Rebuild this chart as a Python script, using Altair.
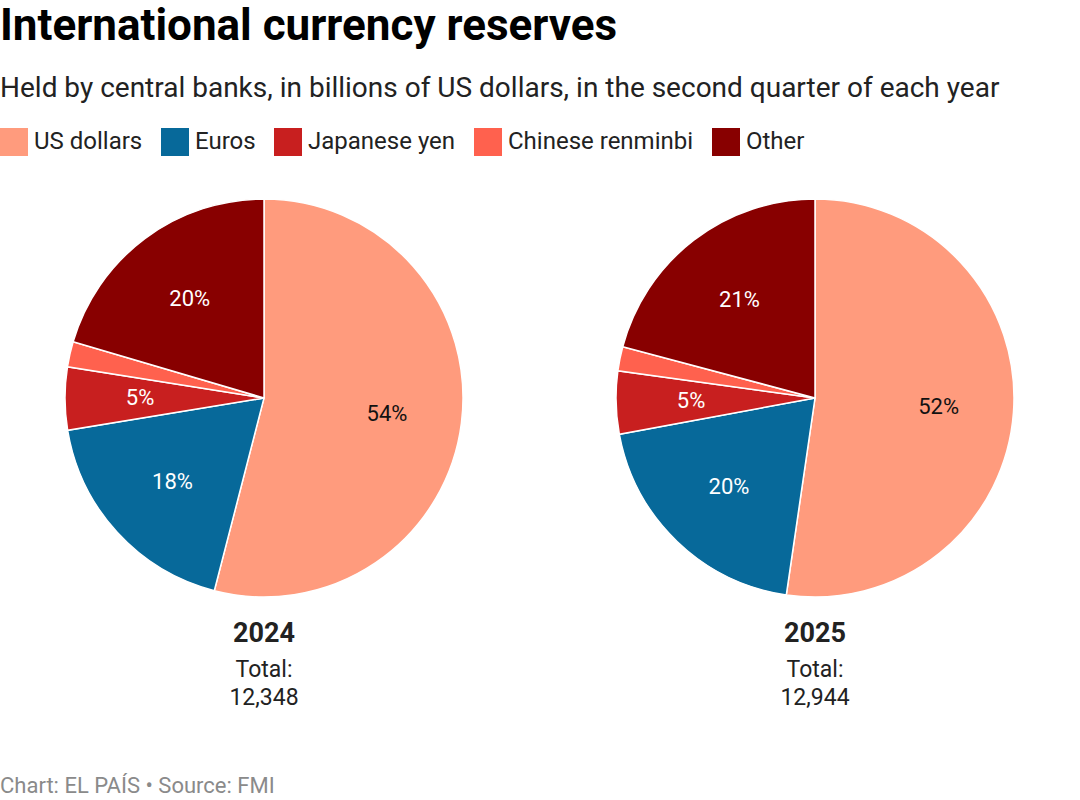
import math
import altair as alt
import pandas as pd

# Reserves held by central banks, billions of US dollars, Q2 of each year
currencies = ["US dollars", "Euros", "Japanese yen", "Chinese renminbi", "Other"]
palette = ["#ff9b7d", "#07699a", "#c81f1f", "#ff614e", "#880000"]
years = ["2024", "2025"]
reserves_2024 = [6670, 2270, 630, 254, 2524]
reserves_2025 = [6770, 2560, 660, 255, 2699]
totals = [12348, 12944]

FONT = "Roboto"

rows = []
for year, values in zip(years, [reserves_2024, reserves_2025]):
    for i, (cur, val) in enumerate(zip(currencies, values)):
        rows.append({"year": year, "currency": cur, "order": i, "value": val})
df = pd.DataFrame(rows)
totals_df = pd.DataFrame({"year": years, "total": totals})
footer_df = pd.DataFrame({"note": ["Chart: EL PAÍS • Source: FMI"]})

x_enc = alt.X("year:N", axis=None,
              scale=alt.Scale(type="point", domain=years, range=[264, 815], padding=0))
theta_scale = alt.Scale(domain=[0, 1], range=[0, 2 * math.pi])

base = (
    alt.Chart(df)
    .transform_joinaggregate(total="sum(value)", groupby=["year"])
    .transform_window(cum="sum(value)", groupby=["year"],
                      sort=[alt.SortField("order")], frame=[None, 0])
    .transform_calculate(
        start="(datum.cum - datum.value) / datum.total",
        end="datum.cum / datum.total",
        mid="(datum.cum - datum.value / 2) / datum.total",
        pct="datum.value / datum.total",
    )
)

pies = base.mark_arc(outerRadius=199, stroke="white", strokeWidth=1.5).encode(
    x=x_enc,
    y=alt.value(208),
    theta=alt.Theta("start:Q", stack=None, scale=theta_scale),
    theta2="end:Q",
    color=alt.Color(
        "currency:N",
        scale=alt.Scale(domain=currencies, range=palette),
        sort=currencies,
        legend=alt.Legend(
            title=None, orient="none", legendX=0, legendY=-62,
            direction="horizontal",
            symbolType="square", symbolSize=784,
            symbolStrokeWidth=0, symbolOpacity=1,
            labelFont=FONT, labelFontSize=24, labelColor="#222222",
            labelOffset=6, columnPadding=18, labelLimit=400,
        ),
    ),
)

pct_labels = base.transform_filter("datum.pct >= 0.03").mark_text(
    font=FONT, fontSize=22, radius=124
).encode(
    x=x_enc,
    y=alt.value(208),
    theta=alt.Theta("mid:Q", stack=None, scale=theta_scale),
    text=alt.Text("pct:Q", format=".0%"),
    color=alt.condition(alt.datum.currency == "US dollars",
                        alt.value("#111111"), alt.value("white")),
)

totals_base = alt.Chart(totals_df)
year_labels = totals_base.mark_text(
    font=FONT, fontSize=27, fontWeight="bold", color="#222222"
).encode(x=x_enc, y=alt.value(444), text="year:N")
total_caption = totals_base.transform_calculate(cap="'Total:'").mark_text(
    font=FONT, fontSize=23, color="#222222"
).encode(x=x_enc, y=alt.value(480), text="cap:N")
total_values = totals_base.mark_text(
    font=FONT, fontSize=23, color="#222222"
).encode(x=x_enc, y=alt.value(508), text=alt.Text("total:Q", format=","))

footer = alt.Chart(footer_df).mark_text(
    font=FONT, fontSize=22, color="#8a8a8a", align="left"
).encode(x=alt.value(0), y=alt.value(596), text="note:N")

chart = (
    alt.layer(pies, pct_labels, year_labels, total_caption, total_values, footer)
    .properties(
        width=1080,
        height=610,
        autosize=alt.AutoSizeParams(type="none"),
        padding={"left": 0, "top": 190, "right": 0, "bottom": 0},
        view=alt.ViewBackground(stroke="transparent", strokeWidth=0),
        title=alt.TitleParams(
            text="International currency reserves",
            subtitle="Held by central banks, in billions of US dollars, in the second quarter of each year",
            anchor="start", frame="group", orient="top",
            font=FONT, fontSize=44, fontWeight="bold", color="#000000",
            subtitleFont=FONT, subtitleFontSize=28, subtitleColor="#222222",
            subtitlePadding=26, offset=25,
        ),
    )
    .configure_view(stroke="transparent", strokeWidth=0)
    .configure(background="white")
)

chart.save("out.html", embed_options={"renderer": "svg", "actions": False})
